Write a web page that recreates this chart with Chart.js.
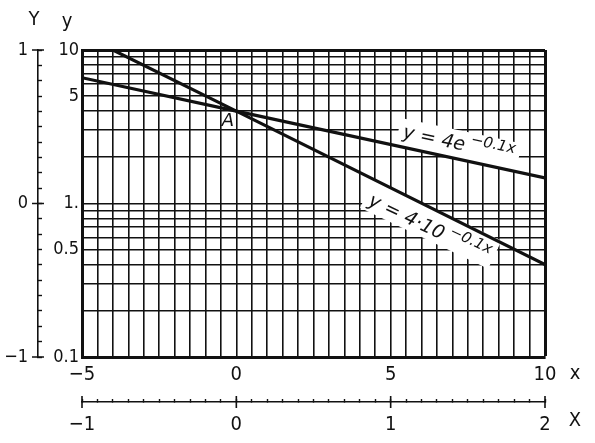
<!DOCTYPE html>
<html><head><meta charset="utf-8">
<script src="https://cdn.jsdelivr.net/npm/chart.js@4.4.0/dist/chart.umd.min.js"></script>
<style>html,body{margin:0;padding:0;background:#fff}</style>
</head><body>
<canvas id="c" width="595" height="443" style="width:595px;height:443px;display:block"></canvas>
<script>
// ---- data ----
const curveE_x = [-5, 0, 10];          // y = 4e^(-0.1x)
const curveE_y = [6.6, 4.0, 1.47];
const curve10_x = [-4, 0, 10];         // y = 4*10^(-0.1x)
const curve10_y = [10, 4.0, 0.4];

const xTickValues = [-5, 0, 5, 10];
const xTickLabels = ['−5', '0', '5', '10'];
const yTickValues = [0.1, 0.5, 1, 5, 10];
const yTickLabels = ['0.1', '0.5', '1.', '5', '10'];
const yGridValues = [0.1,0.2,0.3,0.4,0.5,0.6,0.7,0.8,0.9,1,2,3,4,5,6,7,8,9,10];
const YTickValues = [-1, 0, 1];
const YTickLabels = ['−1', '0', '1'];
const XTickValues = [-1, 0, 1, 2];
const XTickLabels = ['−1', '0', '1', '2'];

// annotations (data coordinates)
const labelE  = {x: 5.37, y: 2.69, angle: 12, main: 'y = 4e', sup: '−0.1x', top: -19, bottom: 9};
const label10 = {x: 4.24, y: 0.985, angle: 25.5, main: 'y = 4·10', sup: '−0.1x', top: -25, bottom: 6};
const pointA  = {x: -0.27, y: 3.45, text: 'A'};

const INK = '#111';
const FONT = "'Liberation Sans Narrow','DejaVu Sans Condensed','Liberation Sans',sans-serif";

function labelFor(values, labels, v) {
  for (let i = 0; i < values.length; i++) if (Math.abs(values[i] - v) < 1e-6) return labels[i];
  return '';
}

function drawCurveLabel(ctx, chart, L) {
  const px = chart.scales.x.getPixelForValue(L.x);
  const py = chart.scales.y.getPixelForValue(L.y);
  ctx.save();
  ctx.translate(px, py);
  ctx.rotate(L.angle * Math.PI / 180);
  ctx.font = "italic 19px 'DejaVu Sans', sans-serif";
  const w1 = ctx.measureText(L.main).width;
  ctx.font = "italic 15px 'DejaVu Sans', sans-serif";
  const w2 = ctx.measureText(L.sup).width;
  const w = w1 + 5 + w2;
  ctx.fillStyle = '#fff';
  ctx.fillRect(-5, L.top, w + 10, L.bottom - L.top);
  ctx.fillStyle = INK;
  ctx.textBaseline = 'alphabetic';
  ctx.textAlign = 'left';
  ctx.font = "italic 19px 'DejaVu Sans', sans-serif";
  ctx.fillText(L.main, 0, 0);
  ctx.font = "italic 15px 'DejaVu Sans', sans-serif";
  ctx.fillText(L.sup, w1 + 5, -8);
  ctx.restore();
}

const annotations = {
  id: 'annotations',
  beforeDatasetsDraw(chart) {
    const ctx = chart.ctx;
    drawCurveLabel(ctx, chart, labelE);
    drawCurveLabel(ctx, chart, label10);
    ctx.save();
    ctx.fillStyle = INK;
    ctx.font = "italic 18px 'DejaVu Sans', sans-serif";
    ctx.textAlign = 'center';
    ctx.textBaseline = 'middle';
    ctx.fillText(pointA.text, chart.scales.x.getPixelForValue(pointA.x), chart.scales.y.getPixelForValue(pointA.y));
    ctx.restore();
  },
  afterDraw(chart) {
    const ctx = chart.ctx, a = chart.chartArea;
    const sY = chart.scales.Y, sX = chart.scales.X;
    ctx.save();
    // major tick marks crossing the auxiliary axes
    ctx.strokeStyle = INK;
    ctx.lineWidth = 1.6;
    ctx.beginPath();
    YTickValues.forEach(v => {
      const p = sY.getPixelForValue(v);
      ctx.moveTo(sY.right - 6, p); ctx.lineTo(sY.right + 6, p);
    });
    XTickValues.forEach(v => {
      const p = sX.getPixelForValue(v);
      ctx.moveTo(p, sX.top - 6); ctx.lineTo(p, sX.top + 6);
    });
    ctx.stroke();
    ctx.fillStyle = INK;
    ctx.textAlign = 'center';
    ctx.textBaseline = 'middle';
    ctx.font = "20px " + FONT;
    ctx.fillText('Y', sY.right - 4, a.top - 30);
    ctx.fillText('y', a.left - 15, a.top - 28);
    ctx.fillText('x', a.right + 30, a.bottom + 17);
    ctx.fillText('X', a.right + 30, sX.top + 19);
    ctx.restore();
  }
};

new Chart(document.getElementById('c'), {
  type: 'scatter',
  data: {
    datasets: [
      { data: curveE_x.map((x, i) => ({x, y: curveE_y[i]})), showLine: true, borderColor: INK, borderWidth: 3.2, pointRadius: 0, xAxisID: 'x', yAxisID: 'y' },
      { data: curve10_x.map((x, i) => ({x, y: curve10_y[i]})), showLine: true, borderColor: INK, borderWidth: 3.2, pointRadius: 0, xAxisID: 'x', yAxisID: 'y' }
    ]
  },
  options: {
    responsive: false,
    animation: false,
    devicePixelRatio: 1,
    layout: { padding: { left: 0, right: 50, top: 50, bottom: 0 } },
    plugins: { legend: { display: false }, tooltip: { enabled: false } },
    scales: {
      x: {
        type: 'linear', position: 'bottom', min: -5, max: 10, weight: 0,
        afterFit(s) { s.height = 45; },
        grid: { color: INK, lineWidth: c => (c.tick && (c.tick.value === 10)) ? 3 : 1.6, drawTicks: false },
        border: { display: true, color: INK, width: 3 },
        ticks: { stepSize: 0.5, autoSkip: false, maxRotation: 0, padding: 6, color: INK,
                 font: { family: FONT, size: 20 },
                 callback: v => labelFor(xTickValues, xTickLabels, v) }
      },
      X: {
        type: 'linear', position: 'bottom', min: -1, max: 2, weight: 1,
        afterFit(s) { s.height = 41; },
        grid: { drawOnChartArea: false, drawTicks: true, tickLength: -3, tickColor: INK, tickWidth: 1.4 },
        border: { display: true, color: INK, width: 1.6 },
        ticks: { stepSize: 0.1, autoSkip: false, maxRotation: 0, padding: 14, color: INK,
                 font: { family: FONT, size: 20 },
                 callback: v => labelFor(XTickValues, XTickLabels, v) }
      },
      y: {
        type: 'logarithmic', position: 'left', min: 0.1, max: 10, weight: 0,
        afterFit(s) { s.width = 44; },
        afterBuildTicks(s) { s.ticks = yGridValues.map(v => ({value: v})); },
        grid: { color: INK, lineWidth: c => (c.tick && (c.tick.value === 10)) ? 3 : 1.6, drawTicks: false },
        border: { display: true, color: INK, width: 3 },
        ticks: { autoSkip: false, padding: 3, color: INK,
                 font: { family: FONT, size: 18 },
                 callback: v => labelFor(yTickValues, yTickLabels, v) }
      },
      Y: {
        type: 'linear', position: 'left', min: -1, max: 1, weight: 1,
        afterFit(s) { s.width = 38; },
        grid: { drawOnChartArea: false, drawTicks: true, tickLength: -4, tickColor: INK, tickWidth: 1.4 },
        border: { display: true, color: INK, width: 1.6 },
        ticks: { stepSize: 0.1, autoSkip: false, padding: 14, color: INK,
                 font: { family: FONT, size: 18 },
                 callback: v => labelFor(YTickValues, YTickLabels, v) }
      }
    }
  },
  plugins: [annotations]
});
</script>
</body></html>
